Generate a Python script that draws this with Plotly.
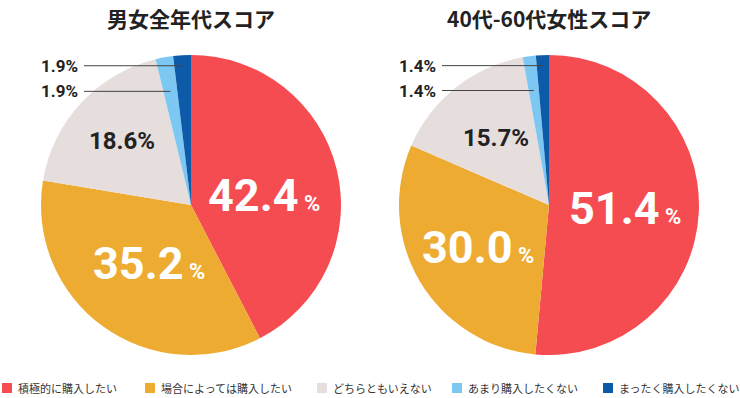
import math
import plotly.graph_objects as go

W, H = 740, 398

categories = ["積極的に購入したい", "場合によっては購入したい", "どちらともいえない", "あまり購入したくない", "まったく購入したくない"]
colors = ["#f54c51", "#eeab31", "#e6dddd", "#7dc8f2", "#0d5aa8"]

titles = ["男女全年代スコア", "40代-60代女性スコア"]
values_all = [42.4, 35.2, 18.6, 1.9, 1.9]
values_4060 = [51.4, 30.0, 15.7, 1.4, 1.4]
series = [values_all, values_4060]

# layout constants (pixels)
pies = [(191, 205, 150), (549, 205, 150)]
label_r = [[0.50, 0.48, 0.63], [0.51, 0.55, 0.57]]
label_dy = [[-8, 0, 0], [0, 0, 0]]
legend_x = [2, 145, 317, 452, 603]
legend_y = 388

JP = "Noto Sans CJK JP"
NUM = "Roboto"

fig = go.Figure()
annotations = []
shapes = []


def px2paper(x, y):
    return x / W, 1 - y / H


for i, (vals, (cx, cy, r)) in enumerate(zip(series, pies)):
    x0, y1 = px2paper(cx - r, cy - r)
    x1, y0 = px2paper(cx + r, cy + r)
    fig.add_trace(go.Pie(
        labels=categories, values=vals, sort=False, direction="clockwise",
        rotation=0, marker=dict(colors=colors, line=dict(width=0)),
        textinfo="none", hoverinfo="label+percent",
        domain=dict(x=[x0, x1], y=[y0, y1]), showlegend=False,
    ))
    total = sum(vals)
    cum = 0
    mids = []
    for v in vals:
        mids.append((cum + v / 2) / total * 2 * math.pi)
        cum += v
    for k in range(3):
        a = mids[k]
        rr = r * label_r[i][k]
        lx = cx + rr * math.sin(a)
        ly = cy - rr * math.cos(a)
        px, py = px2paper(lx, ly)
        if k < 2:
            txt = f"<b>{vals[k]:.1f}<span style='font-size:22px'> %</span></b>"
            annotations.append(dict(x=px, y=py, xref="paper", yref="paper", text=txt,
                                    showarrow=False, font=dict(family=NUM, size=45, color="white"),
                                    xanchor="center", yanchor="middle", yshift=label_dy[i][k]))
        else:
            txt = f"<b>{vals[k]:.1f}%</b>"
            annotations.append(dict(x=px, y=py, xref="paper", yref="paper", text=txt,
                                    showarrow=False, font=dict(family=NUM, size=24, color="#222222"),
                                    xanchor="center", yanchor="middle", yshift=label_dy[i][k]))
    # tiny slices with leader lines
    label_right = cx - r + 39
    for k, lr in zip([4, 3], [0.93, 0.77]):
        a = mids[k]
        ex = cx + r * lr * math.sin(a)
        ey = cy - r * lr * math.cos(a)
        shapes.append(dict(type="line", xref="paper", yref="paper",
                           x0=(label_right + 4) / W, x1=ex / W, y0=1 - ey / H, y1=1 - ey / H,
                           line=dict(color="#444444", width=1)))
        annotations.append(dict(x=label_right / W, y=1 - ey / H, xref="paper", yref="paper",
                                text=f"<b>{vals[k]:.1f}%</b>", showarrow=False,
                                font=dict(family=NUM, size=17, color="#222222"),
                                xanchor="right", yanchor="middle"))
    annotations.append(dict(x=cx / W, y=1 - 18 / H, xref="paper", yref="paper",
                            text=f"<b>{titles[i]}</b>", showarrow=False,
                            font=dict(family=JP, size=21, color="#222222"),
                            xanchor="center", yanchor="middle"))

# legend (drawn from categories / colors)
for cat, col, lx in zip(categories, colors, legend_x):
    shapes.append(dict(type="rect", xref="paper", yref="paper",
                       x0=lx / W, x1=(lx + 10) / W,
                       y0=1 - (legend_y + 5) / H, y1=1 - (legend_y - 5) / H,
                       fillcolor=col, line=dict(width=0)))
    annotations.append(dict(x=(lx + 14) / W, y=1 - legend_y / H, xref="paper", yref="paper",
                            text=cat, showarrow=False, xanchor="left", yanchor="middle",
                            font=dict(family=JP, size=11, color="#333333")))

fig.update_layout(
    width=W, height=H, margin=dict(l=0, r=0, t=0, b=0),
    paper_bgcolor="white", plot_bgcolor="white",
    annotations=annotations, shapes=shapes, showlegend=False,
    font=dict(family=JP),
)

fig.write_html("out.html")
